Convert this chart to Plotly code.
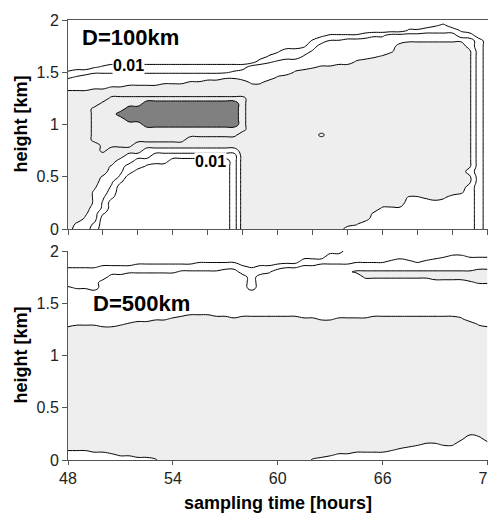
import plotly.graph_objects as go

# ---------------- data ----------------
times = [48.0, 48.5, 49.0, 49.5, 50.0, 50.5, 51.0, 51.5, 52.0, 52.5,
         53.0, 53.5, 54.0, 54.5, 55.0, 55.5, 56.0, 56.5, 57.0, 57.5,
         58.0, 58.5, 59.0, 59.5, 60.0, 60.5, 61.0, 61.5, 62.0, 62.5,
         63.0, 63.5, 64.0, 64.5, 65.0, 65.5, 66.0, 66.5, 67.0, 67.5,
         68.0, 68.5, 69.0, 69.5, 70.0, 70.5, 71.0, 71.5, 72.0]
heights = [0.0, 0.05, 0.1, 0.15, 0.2, 0.25, 0.3, 0.35, 0.4, 0.45,
           0.5, 0.55, 0.6, 0.65, 0.7, 0.75, 0.8, 0.85, 0.9, 0.95,
           1.0, 1.05, 1.1, 1.15, 1.2, 1.25, 1.3, 1.35, 1.4, 1.45,
           1.5, 1.55, 1.6, 1.65, 1.7, 1.75, 1.8, 1.85, 1.9, 1.95, 2.0]

x_minor_ticks = [48, 50, 52, 54, 56, 58, 60, 62, 64, 66, 68, 70, 72]
x_major_ticks = [48, 54, 60, 66, 72]
x_major_text = ["48", "54", "60", "66", "72"]
y_ticks = [0, 0.5, 1, 1.5, 2]
y_tick_text = ["0", "0.5", "1", "1.5", "2"]

# concentration class (log scale index) at each grid node
# '.' < 0.01 | 'a' 0.01-0.1 | 'b' 0.1-1 | 'c' 1-10 (light) | 'd' 10-100 | 'e' > 100 (dark)
# ',' 'p' 'A' 'q' 'B' 'r' : same classes, values lying close to a class edge
class_value = {'.': 0.5, ',': 1.25, 'p': 1.75, 'a': 2.5, 'A': 3.25, 'q': 3.75,
               'b': 4.5, 'B': 5.25, 'r': 5.75, 'c': 6.5, 'd': 8.0, 'e': 9.0}
line_levels = [1.5, 3.5, 5.5, 7.5, 8.5]
light_level = 5.5
dark_level = 8.5

# rows listed from height 2.0 (top) down to 0.0 (bottom); columns 48 h .. 72 h
rows_100km = [
    ".........." ".........." ".........." ".........." ".........",   # 2.00
    ".........." ".........." ".........." ".........." "..,p.....",   # 1.95
    ".........." ".........." ".........." ".........p" "paaaa,...",   # 1.90
    ".........." ".........." ".........," "ppppaAAbbb" "bbbbbaa..",   # 1.85
    ".........." ".........." "........pa" "qqbbbbbbbB" "BBBBBBba.",   # 1.80
    ".........." ".........." ".......,ab" "bbbbbbbbcc" "ccccccba.",   # 1.75
    ".........." ".........." "....,aaaqb" "bbbbbbbBcc" "ccccccra.",   # 1.70
    ".........." ".........." "...paaaqbb" "bbbbbBrccc" "ccccccra.",   # 1.65
    ".........." ".........." "..aAqbbbbb" "bbbrcccccc" "ccccccra.",   # 1.60
    "...,paaaaa" "aaaaaaaaaa" "abbbbbbbBr" "rccccccccc" "ccccccra.",   # 1.55
    "paaAAAAAAA" "AAAAAAAAAq" "bbbbbbrccc" "cccccccccc" "ccccccra.",   # 1.50
    "Aqbbbbbbbb" "bbbbbbbbBB" "bbbbrccccc" "cccccccccc" "ccccccra.",   # 1.45
    "bbbbbbbbbb" "bBBBrrcccc" "cBBccccccc" "cccccccccc" "ccccccra.",   # 1.40
    "bbbBBrrccc" "cccccccccc" "cccccccccc" "cccccccccc" "ccccccra.",   # 1.35
    "cccccccccc" "cccccccccc" "cccccccccc" "cccccccccc" "ccccccra.",   # 1.30
    "cccccddddd" "dddddddddd" "dccccccccc" "cccccccccc" "ccccccra.",   # 1.25
    "ccccddddde" "eeeeeeeeee" "dccccccccc" "cccccccccc" "ccccccra.",   # 1.20
    "cccddddeee" "eeeeeeeeee" "dccccccccc" "cccccccccc" "ccccccra.",   # 1.15
    "cccdddeeee" "eeeeeeeeee" "dccccccccc" "cccccccccc" "ccccccra.",   # 1.10
    "cccddddeee" "eeeeeeeeee" "dccccccccc" "cccccccccc" "ccccccra.",   # 1.05
    "cccdddddde" "eeeeeeeeee" "dccccccccc" "cccccccccc" "ccccccra.",   # 1.00
    "cccddddddd" "dddddddddd" "dccccccccc" "cccccccccc" "ccccccra.",   # 0.95
    "cccddddddd" "dddddddddd" "cccccccccd" "cccccccccc" "ccccccra.",   # 0.90
    "cccddddddd" "ddddcccccc" "cccccccccc" "cccccccccc" "ccccccra.",   # 0.85
    "ccccddddcc" "cccccccccc" "cccccccccc" "cccccccccc" "ccccccra.",   # 0.80
    "ccccdccccb" "bbbbbbbbbb" "cccccccccc" "cccccccccc" "ccccccra.",   # 0.75
    "cccccccbbb" "aaaaaaaaaa" "cccccccccc" "cccccccccc" "ccccccra.",   # 0.70
    "ccccccbbaa" "aa.......a" "cccccccccc" "cccccccccc" "ccccccra.",   # 0.65
    "cccccBbaa," ".........a" "cccccccccc" "cccccccccc" "ccccccra.",   # 0.60
    "cccccbqa.." ".........a" "cccccccccc" "cccccccccc" "ccccccba.",   # 0.55
    "ccccBbA..." ".........a" "cccccccccc" "cccccccccc" "ccccccra.",   # 0.50
    "ccccbqp..." ".........a" "cccccccccc" "cccccccccc" "ccccccra.",   # 0.45
    "cccrbA...." ".........a" "cccccccccc" "cccccccccc" "ccccccba.",   # 0.40
    "cccBba...." ".........a" "cccccccccc" "cccccccccc" "cccccrba.",   # 0.35
    "cccBqp...." ".........a" "cccccccccc" "cccccccccB" "Brcrbbba.",   # 0.30
    "cccBA....." ".........a" "cccccccccc" "cccccccccb" "bbbbbbba.",   # 0.25
    "cccbA....." ".........a" "cccccccccc" "ccccccBBBb" "bbbbbbba.",   # 0.20
    "ccrbp....." ".........a" "cccccccccc" "cccccBbbbb" "bbbbbbba.",   # 0.15
    "ccBb......" ".........a" "cccccccccc" "cccccbbbbb" "bbbbbbba.",   # 0.10
    "cBbA......" ".........a" "cccccccccc" "cccrbbbbbb" "bbbbbbba.",   # 0.05
    "cbba......" ".........a" "cccccccccc" "ccbbbbbbbb" "bbbbbbba.",   # 0.00
]

rows_500km = [
    ".........." ".........." ".........." "..aaaaaaaa" "aaaaaaaaa",   # 2.00
    ".........." ".........." ".........." "aaaaaaaaaa" "aaaAqqAAA",   # 1.95
    ".........." ".....,,,,," ".......aaa" "aaaAAAAqbq" "Aqbbbbbbb",   # 1.90
    ",,,,ppppaa" "aaaaaaaaaa" "p,ppaAAqqb" "bbbbbbbbbb" "bbbbbbbbb",   # 1.85
    "aaaaaaaAAA" "AAAqqqqqbb" "aaaAbbbbbb" "bbBrrrrrrr" "rrrrrrrcc",   # 1.80
    "aaaaabbbbb" "bbbbbbbbbb" "babbbbbbbb" "bbbbrrrrrr" "rrccccccc",   # 1.75
    "aaaabbbbbb" "bbbbbbbbbb" "babbbbbbbb" "bbbbbbbbbb" "bbbbbbBrr",   # 1.70
    "qAAabbbbbb" "bbbbbbbbbb" "babbbbbbbb" "bbbbbbbbbb" "bbbbbbbbb",   # 1.65
    "bbbbbbbbbb" "bbbbbbbbbb" "bbbbbbbbbb" "bbbbbbbbbb" "bbbbbbbbb",   # 1.60
    "bbbbbbbbbb" "bbbbbbbbbb" "bbbbbbbbbb" "bbbbbbbbbb" "bbbbbbbbb",   # 1.55
    "bbbbbbbbbb" "bbbbbbbbbb" "bbbbbbbbbb" "bbbbbbbbbb" "bbbbbbbbb",   # 1.50
    "bbbbbbbbbb" "bbbbbbbbbb" "bbbbbbbbbb" "bbbbbbbbbb" "bbbbbbbbb",   # 1.45
    "bbbbbbbbbb" "bbbbBBBbbb" "bbbbbbbbbb" "bbbbbbbbbb" "bbbbbbbbb",   # 1.40
    "bbbbbbbbbb" "BBrccccccr" "cccccccrrB" "Brrrrccccc" "cccccrbbb",   # 1.35
    "bBBBbbBrcc" "cccccccccc" "cccccccccc" "cccccccccc" "cccccccBb",   # 1.30
    "cccccccccc" "cccccccccc" "cccccccccc" "cccccccccc" "ccccccccc",   # 1.25
    "cccccccccc" "cccccccccc" "cccccccccc" "cccccccccc" "ccccccccc",   # 1.20
    "cccccccccc" "cccccccccc" "cccccccccc" "cccccccccc" "ccccccccc",   # 1.15
    "cccccccccc" "cccccccccc" "cccccccccc" "cccccccccc" "ccccccccc",   # 1.10
    "cccccccccc" "cccccccccc" "cccccccccc" "cccccccccc" "ccccccccc",   # 1.05
    "cccccccccc" "cccccccccc" "cccccccccc" "cccccccccc" "ccccccccc",   # 1.00
    "cccccccccc" "cccccccccc" "cccccccccc" "cccccccccc" "ccccccccc",   # 0.95
    "cccccccccc" "cccccccccc" "cccccccccc" "cccccccccc" "ccccccccc",   # 0.90
    "cccccccccc" "cccccccccc" "cccccccccc" "cccccccccc" "ccccccccc",   # 0.85
    "cccccccccc" "cccccccccc" "cccccccccc" "cccccccccc" "ccccccccc",   # 0.80
    "cccccccccc" "cccccccccc" "cccccccccc" "cccccccccc" "ccccccccc",   # 0.75
    "cccccccccc" "cccccccccc" "cccccccccc" "cccccccccc" "ccccccccc",   # 0.70
    "cccccccccc" "cccccccccc" "cccccccccc" "cccccccccc" "ccccccccc",   # 0.65
    "cccccccccc" "cccccccccc" "cccccccccc" "cccccccccc" "ccccccccc",   # 0.60
    "cccccccccc" "cccccccccc" "cccccccccc" "cccccccccc" "ccccccccc",   # 0.55
    "cccccccccc" "cccccccccc" "cccccccccc" "cccccccccc" "ccccccccc",   # 0.50
    "cccccccccc" "cccccccccc" "cccccccccc" "cccccccccc" "ccccccccc",   # 0.45
    "cccccccccc" "cccccccccc" "cccccccccc" "cccccccccc" "ccccccccc",   # 0.40
    "cccccccccc" "cccccccccc" "cccccccccc" "cccccccccc" "ccccccccc",   # 0.35
    "cccccccccc" "cccccccccc" "cccccccccc" "cccccccccc" "ccccccccc",   # 0.30
    "cccccccccc" "cccccccccc" "cccccccccc" "cccccccccc" "ccccccrcc",   # 0.25
    "cccccccccc" "cccccccccc" "cccccccccc" "cccccccccc" "cccccrbbc",   # 0.20
    "cccccccccc" "cccccccccc" "cccccccccc" "cccccccccc" "rBBrrbbbb",   # 0.15
    "rrrccccccc" "cccccccccc" "cccccccccc" "cccccccrBb" "bbbbbbbbb",   # 0.10
    "bbbbbBrrcc" "cccccccccc" "cccccccccc" "rBBbbbbbbb" "bbbbbbbbb",   # 0.05
    "bbbbbbbbbb" "Bccccccccc" "ccccccccBb" "bbbbbbbbbb" "bbbbbbbbb",   # 0.00
]

for rows in (rows_100km, rows_500km):
    assert len(rows) == len(heights), len(rows)
    for r in rows:
        assert len(r) == len(times), (r, len(r))

# ---------------- figure ----------------
# the page body keeps its default 8px margin, so the figure is drawn 8px in
# from the window's top-left corner; lay it out in window pixels minus that.
OFF = 8
W, H = 496 - OFF, 514 - OFF


def fx(px):
    return (px - OFF) / W


def fy(py):
    return 1 - (py - OFF) / H


px_left, px_right = 68, 487.5
top_px = (20, 229)
bot_px = (251, 460)
xdom = [fx(px_left), fx(px_right)]
ydom_top = [fy(top_px[1]), fy(top_px[0])]
ydom_bot = [fy(bot_px[1]), fy(bot_px[0])]

FONT = "Arial, Liberation Sans, Helvetica, sans-serif"
AX = "#555555"
LIGHT = "#eeeeee"
DARK = "#808080"
SMOOTH = 1.3

fig = go.Figure()


def add_panel(rows, xa, ya):
    z = [[class_value[ch] for ch in row] for row in rows[::-1]]
    common = dict(x=times, y=heights, z=z, xaxis=xa, yaxis=ya,
                  showscale=False, hoverinfo="skip")
    # constraint contours shade the region failing the constraint,
    # so "<" shades the values above the threshold
    fig.add_trace(go.Contour(**common,
                             contours=dict(type="constraint", operation="<", value=light_level),
                             fillcolor=LIGHT, line=dict(width=0, smoothing=SMOOTH)))
    fig.add_trace(go.Contour(**common,
                             contours=dict(type="constraint", operation="<", value=dark_level),
                             fillcolor=DARK, line=dict(width=0, smoothing=SMOOTH)))
    for lv in line_levels:
        fig.add_trace(go.Contour(**common, autocontour=False,
                                 contours=dict(start=lv, end=lv, size=1, coloring="none"),
                                 line=dict(color="black", width=1, smoothing=SMOOTH)))


add_panel(rows_100km, "x", "y")
add_panel(rows_500km, "x2", "y2")

tickfont = dict(family=FONT, size=16, color="#222222")
common_y = dict(range=[0, 2], tickvals=y_ticks, ticktext=y_tick_text, ticks="outside",
                ticklen=5, tickcolor=AX, showline=True, linecolor=AX, linewidth=1,
                mirror="ticks", showgrid=False, zeroline=False, tickfont=tickfont,
                automargin=False, ticklabeloverflow="allow")

fig.update_layout(
    width=W, height=H, margin=dict(l=0, r=0, t=0, b=0, autoexpand=False),
    paper_bgcolor="white", plot_bgcolor="white", showlegend=False,
    xaxis=dict(domain=xdom, anchor="y", range=[48, 72], tickvals=x_minor_ticks,
               ticks="outside", ticklen=5, tickcolor=AX, showticklabels=False,
               showline=True, linecolor=AX, linewidth=1, mirror=True,
               showgrid=False, zeroline=False, automargin=False),
    yaxis=dict(domain=ydom_top, anchor="x", **common_y),
    xaxis2=dict(domain=xdom, anchor="y2", range=[48, 72], tickvals=x_major_ticks,
                ticktext=x_major_text, ticks="outside", ticklen=4, tickcolor=AX,
                showticklabels=True, tickfont=tickfont, showline=True, linecolor=AX,
                linewidth=1, mirror=False, showgrid=False, zeroline=False,
                automargin=False, ticklabeloverflow="allow"),
    xaxis3=dict(overlaying="x2", anchor="y2", side="top", range=[48, 72],
                tickvals=x_minor_ticks, ticks="outside", ticklen=5, tickcolor=AX,
                showticklabels=False, showline=True, linecolor=AX, linewidth=1,
                showgrid=False, zeroline=False, automargin=False),
    yaxis2=dict(domain=ydom_bot, anchor="x2", **common_y),
)

title_font = dict(family=FONT, size=18, color="black")
ann = []
ann.append(dict(text="<b>height [km]</b>", xref="paper", yref="paper",
                x=fx(20), y=fy(sum(top_px) / 2), textangle=-90,
                showarrow=False, font=title_font, xanchor="center", yanchor="middle"))
ann.append(dict(text="<b>height [km]</b>", xref="paper", yref="paper",
                x=fx(20), y=fy(sum(bot_px) / 2), textangle=-90,
                showarrow=False, font=title_font, xanchor="center", yanchor="middle"))
ann.append(dict(text="<b>sampling time [hours]</b>", xref="paper", yref="paper",
                x=fx((px_left + px_right) / 2), y=fy(503), showarrow=False,
                font=title_font, xanchor="center", yanchor="middle"))
ann.append(dict(text="<b>D=100km</b>", xref="x", yref="y", x=51.55, y=1.83,
                showarrow=False, font=dict(family=FONT, size=22, color="black"),
                xanchor="center", yanchor="middle"))
ann.append(dict(text="<b>D=500km</b>", xref="x2", yref="y2", x=52.2, y=1.50,
                showarrow=False, font=dict(family=FONT, size=22, color="black"),
                xanchor="center", yanchor="middle"))
label_font = dict(family=FONT, size=16, color="black")
ann.append(dict(text="<b>0.01</b>", xref="x", yref="y", x=51.45, y=1.565,
                showarrow=False, font=label_font, bgcolor="white", borderpad=0,
                xanchor="center", yanchor="middle"))
ann.append(dict(text="<b>0.01</b>", xref="x", yref="y", x=56.15, y=0.65,
                showarrow=False, font=label_font, bgcolor="white", borderpad=0,
                xanchor="center", yanchor="middle"))
fig.update_layout(annotations=ann)

fig.write_html("out.html")
